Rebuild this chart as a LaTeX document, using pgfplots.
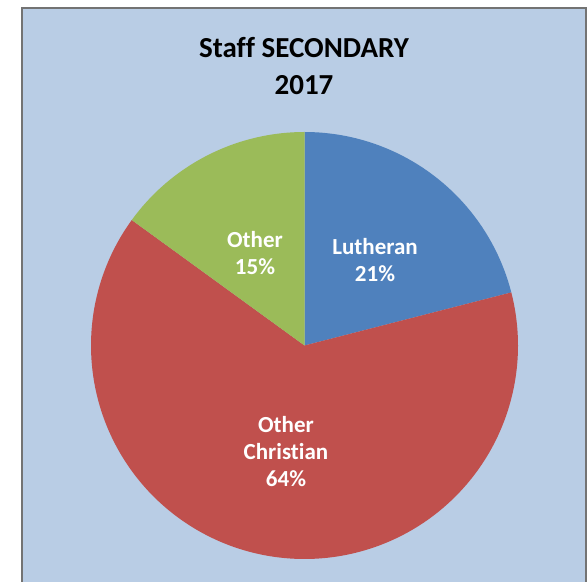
\documentclass[border=0pt]{standalone}
\usepackage{pgfplots}
\pgfplotsset{compat=1.18}
\usepackage{fontspec}
\setmainfont{Carlito}[Ligatures={NoCommon}]
\definecolor{bgblue}{HTML}{B9CDE5}
\definecolor{lutheran}{HTML}{4F81BD}
\definecolor{otherchr}{HTML}{C0504D}
\definecolor{othergreen}{HTML}{9BBB59}
\begin{document}
\begin{tikzpicture}
\begin{axis}[
  scale only axis, width=588pt, height=581pt,
  xmin=0, xmax=588, ymin=0, ymax=581,
  hide axis, clip=true,
]
% background panel
\fill[white] (axis cs:0,0) rectangle (axis cs:588,581);
\filldraw[fill=bgblue, draw=gray!90!black, line width=1.4pt] (axis cs:22,-10) rectangle (axis cs:586,573);
% pie slices (values: Lutheran 21, Other Christian 64, Other 15 percent)
\addplot[fill=lutheran, draw=none, domain={90-3.6*21}:90, samples=120, variable=\t]
  ({304.5+213.5*cos(t)},{235.5+213.5*sin(t)}) -- (axis cs:304.5,235.5) -- cycle;
\addplot[fill=otherchr, draw=none, domain={90-3.6*(21+64)}:{90-3.6*21}, samples=240, variable=\t]
  ({304.5+213.5*cos(t)},{235.5+213.5*sin(t)}) -- (axis cs:304.5,235.5) -- cycle;
\addplot[fill=othergreen, draw=none, domain={90-3.6*100}:{90-3.6*85}, samples=80, variable=\t]
  ({304.5+213.5*cos(t)},{235.5+213.5*sin(t)}) -- (axis cs:304.5,235.5) -- cycle;
% labels
\node[text=white, font=\fontsize{23}{27}\selectfont\bfseries, align=center] at (axis cs:375,321) {Lutheran\\21\%};
\node[text=white, font=\fontsize{23}{27}\selectfont\bfseries, align=center] at (axis cs:255,328) {Other\\15\%};
\node[text=white, font=\fontsize{23}{27}\selectfont\bfseries, align=center] at (axis cs:286,129) {Other\\Christian\\64\%};
% title
\node[text=black, font=\fontsize{29}{37}\selectfont\bfseries, align=center] at (axis cs:304,515) {Staff SECONDARY\\2017};
\end{axis}
\end{tikzpicture}
\end{document}
